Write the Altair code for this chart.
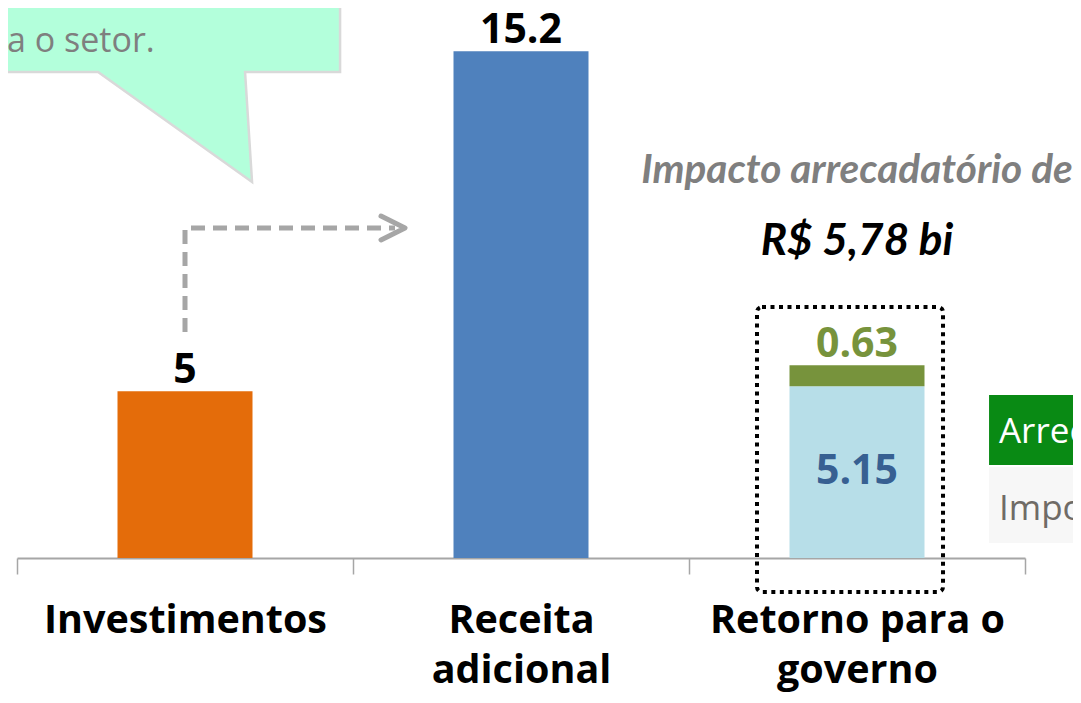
import altair as alt
import pandas as pd

# ---------------- data ----------------
categories = ["Investimentos", "Receita\nadicional", "Retorno para o\ngoverno"]
segments = ["Investimentos", "Receita adicional", "Impostos", "Arrecadação adicional"]
seg_category = [categories[0], categories[1], categories[2], categories[2]]
seg_values = [5.0, 15.2, 5.15, 0.63]
seg_order = [0, 0, 0, 1]
seg_colors = ["#E46C0A", "#4F81BD", "#B7DEE8", "#77933C"]

top_labels = ["5", "15.2", "0.63"]
top_label_colors = ["#000000", "#000000", "#77933C"]
inner_label = ["5.15"]
inner_label_color = ["#376092"]

headline = ["Impacto arrecadatório de", "R$ 5,78 bi"]
callout_lines = ["Receita adicional acumulada de", "R$ 15,2 bi para o setor."]
legend_items = ["Arrecadação adicional", "Impostos"]
legend_fill = ["#098A14", "#F7F7F7"]
legend_text_color = ["#FFFFFF", "#6F6B66"]

# ---------------- layout ----------------
W, H = 1008, 550
YMAX = 16.5
xband = alt.Scale(domain=categories, paddingInner=0, paddingOuter=0)
yscale = alt.Scale(domain=[0, YMAX], nice=False, zero=True)
xlin = alt.Scale(domain=[0, 3], nice=False, zero=False)

totals = [round(sum(v for c, v in zip(seg_category, seg_values) if c == cat), 2)
          for cat in categories]

bars_df = pd.DataFrame({"cat": seg_category, "seg": segments,
                        "value": seg_values, "ord": seg_order})
top_df = pd.DataFrame({"cat": categories, "total": totals,
                       "label": top_labels, "color": top_label_colors})
inner_df = pd.DataFrame({"cat": [categories[2]], "y": [seg_values[2] / 2],
                         "label": inner_label, "color": inner_label_color})

x_axis = alt.Axis(
    title=None, labelAngle=0, labelExpr="split(datum.label, '\\n')",
    labelFont="Open Sans", labelFontWeight="bold", labelFontSize=39.5,
    labelColor="#000000", labelLineHeight=50, labelPadding=27, labelLimit=0,
    tickBand="extent", tickSize=16, tickColor="#A6A6A6", tickWidth=1.5,
    domainColor="#A6A6A6", domainWidth=2, grid=False,
)

bars = alt.Chart(bars_df).mark_bar(size=135).encode(
    x=alt.X("cat:N", scale=xband, axis=x_axis, sort=categories),
    y=alt.Y("value:Q", stack="zero", scale=yscale, axis=None),
    color=alt.Color("seg:N", scale=alt.Scale(domain=segments, range=seg_colors), legend=None),
    order=alt.Order("ord:Q"),
)

top_text = alt.Chart(top_df).mark_text(
    font="Open Sans", fontWeight="bold", fontSize=41, baseline="alphabetic", dy=-8
).encode(
    x=alt.X("cat:N", scale=xband, axis=None, sort=categories),
    y=alt.Y("total:Q", scale=yscale, axis=None),
    text="label:N",
    color=alt.Color("color:N", scale=None),
)

inner_text = alt.Chart(inner_df).mark_text(
    font="Open Sans", fontWeight="bold", fontSize=41, baseline="middle"
).encode(
    x=alt.X("cat:N", scale=xband, axis=None, sort=categories),
    y=alt.Y("y:Q", scale=yscale, axis=None),
    text="label:N",
    color=alt.Color("color:N", scale=None),
)

def X(f):
    return alt.X(f, type="quantitative", scale=xlin, axis=None)

def Y(f):
    return alt.Y(f, type="quantitative", scale=yscale, axis=None)

# callout bubble
callout_path = "M -2.4 -1.8 L 1.9 -1.8 L 1.9 0.12 L 0.95 0.12 L 1.02 1.22 L -0.52 0.12 L -2.4 0.12 Z"
callout = alt.Chart(pd.DataFrame({"x": [0.396], "y": [14.94]})).mark_point(
    shape=callout_path, size=40000, filled=True, color="#B3FFDB", opacity=1,
    stroke="#D9D9D9", strokeWidth=2.5,
).encode(x=X("x"), y=Y("y"))

callout_text = alt.Chart(pd.DataFrame({
    "x": [0.813, 0.41], "y": [16.5, 15.18], "t": callout_lines
})).mark_text(font="Open Sans", fontSize=34, color="#7F7F7F", align="right",
              baseline="alphabetic").encode(x=X("x"), y=Y("y"), text="t:N")

# dashed arrow
arrow_df = pd.DataFrame({"x": [0.5, 0.5, 1.125], "y": [6.78, 9.9, 9.9], "o": [0, 1, 2]})
arrow = alt.Chart(arrow_df).mark_line(
    strokeDash=[14, 8], strokeWidth=5, color="#A6A6A6", strokeJoin="round"
).encode(x=X("x"), y=Y("y"), order="o:Q")

arrowhead = alt.Chart(pd.DataFrame({"x": [1.1548], "y": [9.9]})).mark_point(
    shape="M -2 -1 L 0 0 L -2 1", size=576, filled=False, color="#A6A6A6",
    strokeWidth=5, strokeCap="round", strokeJoin="round", opacity=1,
).encode(x=X("x"), y=Y("y"))

# dotted box round the third bar
box = alt.Chart(pd.DataFrame({"x": [2.2024], "x2": [2.756], "y": [7.53], "y2": [-1.02]})).mark_rect(
    filled=False, color="#000000", strokeWidth=4, strokeDash=[4, 4.5], cornerRadius=5,
).encode(x=X("x"), x2="x2:Q", y=Y("y"), y2="y2:Q")

# legend-like boxes at right
leg_df = pd.DataFrame({
    "x": [2.893, 2.893], "x2": [3.3, 3.3], "y": [4.89, 2.73], "y2": [2.79, 0.45],
    "fill": legend_fill, "tc": legend_text_color, "t": legend_items,
    "tx": [2.9226, 2.9226], "ty": [3.45, 1.14],
})
leg_rect = alt.Chart(leg_df).mark_rect().encode(
    x=X("x"), x2="x2:Q", y=Y("y"), y2="y2:Q", color=alt.Color("fill:N", scale=None)
)
leg_text = alt.Chart(leg_df).mark_text(
    font="Open Sans", fontSize=35, align="left", baseline="alphabetic"
).encode(x=X("tx"), y=Y("ty"), text="t:N", color=alt.Color("tc:N", scale=None))

# headline
head_df = pd.DataFrame({"x": [2.5, 2.5], "y": [11.25, 9.09], "t": headline})
head1 = alt.Chart(head_df.iloc[[0]]).mark_text(
    font="Lato", fontWeight="bold", fontStyle="italic", fontSize=40.5,
    baseline="alphabetic", color="#7F7F7F"
).encode(x=X("x"), y=Y("y"), text="t:N")
head2 = alt.Chart(head_df.iloc[[1]]).mark_text(
    font="Lato", fontWeight="bold", fontStyle="italic", fontSize=44,
    baseline="alphabetic", color="#000000"
).encode(x=X("x"), y=Y("y"), text="t:N")

chart = alt.layer(
    bars, top_text, inner_text, callout, callout_text, arrow, arrowhead,
    box, leg_rect, leg_text, head1, head2
).resolve_scale(x="independent").properties(
    width=W, height=H,
    autosize=alt.AutoSizeParams(type="none"),
    padding={"left": 9, "top": 0, "right": 48, "bottom": 137},
).configure_view(stroke="transparent")

chart.save("out.html", embed_options={"renderer": "svg", "actions": False})
